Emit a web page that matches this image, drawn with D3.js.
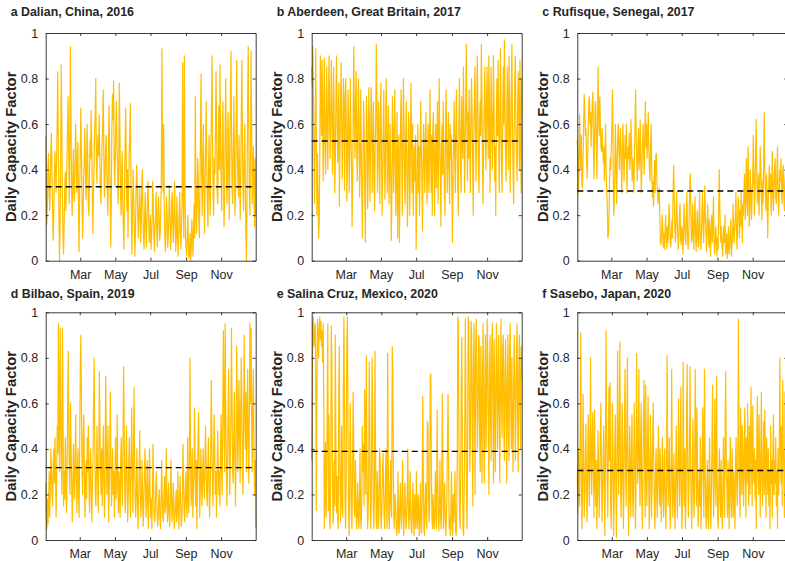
<!DOCTYPE html>
<html>
<head>
<meta charset="utf-8">
<script src="https://cdn.jsdelivr.net/npm/d3@7"></script>
<style>
  html, body { margin: 0; padding: 0; background: #fff; }
  #container { width: 785px; height: 561px; overflow: hidden; }
  text { font-family: "Liberation Sans", Arial, Helvetica, sans-serif; }
</style>
</head>
<body>
<div id="container"></div>
<script>
// panel headings, years and the mean (dashed) level
const panelTitles = [
  "a Dalian, China, 2016", "b Aberdeen, Great Britain, 2017", "c Rufisque, Senegal, 2017",
  "d Bilbao, Spain, 2019", "e Salina Cruz, Mexico, 2020", "f Sasebo, Japan, 2020"
];
const panelYears = [2016, 2017, 2017, 2019, 2020, 2020];
const panelMeans = [0.325, 0.526, 0.306, 0.318, 0.389, 0.305];
const yTicks = [0, 0.2, 0.4, 0.6, 0.8, 1];
const tickMonths = [2, 4, 6, 8, 10]; // Mar, May, Jul, Sep, Nov

// daily capacity factor, one row per month
const dalian = [
  .55,.3,.16,.25,.42,.47,.3,.22,.35,.49,.56,.38,.21,.09,.2,.35,.48,.4,.3,.45,.61,.83,.5,.2,.0,.15,.45,.86,.6,.3,.12,
  .03,.15,.3,.39,.22,.35,.46,.6,.72,.45,.25,.5,.94,.6,.3,.2,.35,.49,.3,.26,.44,.6,.47,.3,.38,.52,.2,.04,.3,
  .45,.67,.5,.3,.1,.2,.36,.45,.58,.4,.27,.38,.6,.47,.25,.2,.35,.53,.45,.66,.5,.31,.12,.3,.4,.58,.63,.8,.45,.34,.5,
  .55,.46,.64,.45,.3,.25,.41,.52,.6,.75,.48,.28,.35,.48,.55,.42,.3,.2,.45,.68,.52,.3,.06,.25,.58,.73,.62,.79,.45,.33,
  .45,.6,.7,.5,.38,.25,.44,.78,.56,.3,.2,.38,.48,.25,.15,.05,.3,.52,.67,.45,.22,.4,.1,.3,.45,.55,.69,.4,.18,.03,.25,
  .4,.28,.15,.02,.12,.3,.42,.35,.2,.1,.18,.33,.25,.08,.15,.35,.4,.22,.1,.05,.2,.3,.14,.06,.18,.28,.35,.2,.08,.12,
  .2,.05,.1,.17,.35,.25,.1,.04,.15,.2,.3,.13,.06,.18,.28,.2,.09,.12,.22,.35,.93,.5,.3,.6,.25,.1,.04,.14,.28,.2,.06,
  .1,.2,.33,.2,.05,.1,.26,.3,.15,.08,.18,.35,.2,.04,.1,.28,.15,.02,.1,.22,.3,.12,.05,.15,.25,.87,.3,.1,.9,.35,.1,
  .05,.02,.1,.2,.08,.01,.03,.12,.0,.05,.18,.1,.02,.15,.25,.1,.72,.3,.12,.2,.45,.38,.2,.1,.3,.55,.82,.4,.2,.45,
  .6,.3,.12,.35,.5,.7,.4,.25,.15,.4,.55,.3,.2,.48,.65,.9,.5,.28,.2,.45,.38,.55,.83,.6,.3,.25,.5,.68,.4,.86,.5,
  .35,.22,.55,.7,.4,.15,.3,.6,.8,.45,.25,.35,.65,.5,.18,.4,.7,.92,.55,.3,.25,.5,.72,.45,.2,.3,.6,.88,.5,.35,
  .28,.55,.4,.18,.35,.65,.88,.5,.3,.22,.45,.6,.35,.1,.0,.3,.72,.94,.55,.3,.2,.5,.92,.6,.25,.35,.5,.3,.15,.45,.2
];
const aberdeen = [
  .85,.77,.94,.7,.45,.25,.6,.93,.55,.2,.47,.3,.1,.16,.46,.9,.75,.55,.88,.6,.35,.7,.89,.5,.38,.62,.85,.55,.4,.72,.9,
  .65,.45,.6,.88,.72,.38,.5,.85,.6,.3,.45,.72,.9,.65,.43,.55,.78,.24,.5,.7,.87,.6,.36,.55,.8,.72,.31,.65,
  .8,.55,.26,.45,.75,.6,.3,.5,.8,.55,.42,.15,.35,.68,.94,.6,.45,.7,.83,.5,.35,.55,.8,.62,.28,.4,.75,.5,.26,.1,.45,
  .7,.55,.3,.08,.45,.72,.6,.23,.4,.76,.55,.26,.5,.76,.65,.3,.45,.7,.35,.22,.5,.62,.95,.7,.3,.55,.7,.4,.25,.65,
  .78,.45,.2,.35,.6,.75,.42,.27,.5,.8,.6,.3,.5,.68,.25,.4,.6,.35,.09,.3,.72,.55,.3,.55,.75,.4,.2,.45,.65,.1,.4,
  .55,.08,.3,.62,.75,.5,.2,.45,.8,.6,.33,.25,.55,.7,.4,.15,.35,.65,.5,.2,.48,.78,.55,.3,.6,.2,.4,.5,.35,.55,
  .05,.2,.45,.6,.3,.5,.2,.45,.7,.5,.35,.13,.4,.6,.45,.3,.52,.65,.4,.25,.5,.6,.3,.45,.75,.5,.3,.55,.2,.58,.65,
  .4,.2,.5,.6,.32,.5,.7,.25,.45,.8,.55,.35,.15,.5,.6,.38,.7,.45,.3,.2,.6,.75,.5,.3,.45,.65,.4,.25,.6,.45,.55,
  .3,.08,.4,.52,.7,.45,.3,.6,.75,.5,.35,.2,.55,.8,.6,.4,.3,.72,.55,.45,.85,.6,.3,.5,.7,.95,.6,.35,.65,.45,
  .75,.5,.3,.6,.8,.65,.4,.2,.55,.7,.85,.55,.35,.6,.9,.7,.4,.3,.6,.7,.55,.95,.7,.45,.25,.5,.65,.85,.6,.4,.7,
  .85,.6,.45,.9,.7,.3,.5,.85,.65,.4,.55,.9,.7,.35,.5,.2,.6,.8,.55,.88,.6,.3,.55,.93,.7,.4,.3,.6,.85,.6,
  .97,.7,.45,.35,.6,.85,.6,.4,.9,.7,.3,.5,.75,.95,.6,.4,.25,.55,.8,.9,.6,.45,.35,.7,.83,.6,.4,.88,.55,.3,.8
];
const rufisque = [
  .53,.45,.3,.4,.64,.5,.4,.55,.33,.32,.45,.6,.73,.65,.55,.58,.45,.36,.45,.6,.7,.72,.6,.65,.5,.62,.7,.74,.48,.36,.55,
  .7,.68,.5,.36,.6,.85,.65,.55,.72,.6,.5,.48,.58,.5,.43,.5,.35,.45,.6,.4,.3,.25,.1,.12,.2,.35,.45,.4,
  .5,.6,.75,.5,.2,.25,.38,.6,.45,.25,.4,.55,.6,.5,.4,.52,.58,.45,.3,.45,.6,.48,.35,.45,.55,.45,.6,.3,.4,.5,.45,
  .56,.4,.45,.62,.5,.35,.45,.38,.3,.45,.6,.75,.55,.45,.35,.5,.58,.4,.45,.62,.45,.3,.4,.52,.6,.48,.38,.55,.7,.5,
  .6,.45,.55,.65,.5,.4,.35,.5,.6,.42,.28,.35,.24,.32,.44,.3,.46,.47,.35,.3,.25,.3,.32,.2,.08,.07,.1,.2,.15,.06,.12,
  .05,.1,.2,.12,.05,.15,.08,.12,.25,.18,.1,.06,.12,.18,.1,.3,.42,.3,.15,.08,.15,.3,.2,.12,.05,.1,.2,.25,.1,.07,
  .15,.13,.03,.1,.25,.18,.1,.07,.2,.3,.12,.05,.1,.2,.36,.38,.2,.08,.1,.25,.12,.05,.18,.28,.12,.04,.15,.22,.1,.06,.18,
  .3,.12,.05,.1,.2,.3,.15,.08,.2,.33,.2,.12,.04,.15,.25,.12,.06,.18,.1,.02,.15,.2,.08,.15,.28,.1,.03,.1,.15,.08,.02,
  .1,.05,.2,.4,.25,.12,.08,.15,.05,.02,.1,.15,.08,.2,.03,.06,.12,.01,.08,.15,.03,.05,.12,.18,.02,.06,.1,.25,.12,.08,
  .15,.2,.3,.1,.05,.18,.28,.22,.1,.22,.15,.3,.2,.08,.25,.2,.32,.38,.18,.25,.45,.3,.2,.5,.35,.15,.22,.4,.28,.18,.3,
  .35,.55,.4,.2,.3,.45,.62,.4,.25,.3,.38,.2,.3,.5,.42,.3,.18,.35,.25,.45,.65,.4,.3,.22,.38,.28,.1,.25,.35,.42,
  .3,.38,.2,.28,.48,.35,.22,.3,.4,.45,.28,.25,.38,.5,.32,.2,.3,.4,.35,.45,.3,.25,.38,.42,.28,.22,.35,.4,.3,.22,.4
];
const bilbao = [
  .25,.1,.05,.18,.07,.15,.3,.1,.22,.4,.3,.2,.15,.33,.4,.25,.45,.3,.1,.28,.5,.38,.95,.5,.3,.93,.6,.35,.2,.93,.55,
  .15,.3,.18,.45,.3,.12,.25,.55,.83,.5,.3,.2,.6,.4,.25,.08,.2,.42,.3,.18,.35,.55,.3,.12,.28,.4,.2,.1,
  .45,.78,.9,.6,.3,.2,.45,.55,.3,.1,.25,.35,.18,.45,.3,.5,.25,.12,.3,.4,.2,.08,.25,.35,.6,.8,.45,.2,.15,.3,.5,
  .28,.12,.3,.74,.5,.3,.2,.4,.15,.35,.5,.25,.1,.3,.72,.45,.2,.35,.5,.08,.2,.35,.65,.4,.15,.25,.4,.2,.3,.1,
  .25,.45,.18,.3,.55,.25,.12,.3,.2,.1,.35,.45,.25,.15,.4,.76,.5,.2,.12,.3,.5,.3,.08,.18,.35,.45,.2,.1,.3,.58,.35,
  .12,.3,.67,.4,.18,.1,.2,.4,.2,.05,.15,.3,.48,.22,.1,.18,.35,.2,.06,.15,.28,.4,.25,.1,.2,.35,.15,.05,.25,.4,
  .2,.1,.18,.05,.2,.42,.25,.1,.08,.15,.25,.3,.12,.06,.1,.18,.22,.1,.05,.15,.35,.2,.1,.08,.2,.28,.12,.15,.4,.2,.08,
  .15,.25,.1,.06,.15,.35,.2,.08,.12,.25,.18,.05,.1,.15,.22,.08,.15,.3,.12,.05,.2,.28,.15,.06,.1,.2,.42,.25,.12,.08,.2,
  .3,.15,.1,.45,.2,.12,.35,.8,.4,.15,.25,.4,.1,.2,.3,.58,.3,.15,.35,.05,.25,.45,.56,.3,.1,.22,.4,.25,.15,.3,
  .4,.25,.18,.3,.5,.35,.2,.15,.3,.45,.25,.1,.2,.38,.7,.45,.25,.15,.35,.55,.4,.2,.3,.1,.25,.48,.35,.2,.3,.15,.4,
  .55,.3,.2,.6,.92,.55,.3,.95,.6,.35,.15,.3,.5,.75,.45,.2,.35,.55,.93,.6,.3,.25,.45,.65,.35,.15,.4,.85,.6,.3,
  .45,.7,.5,.25,.55,.8,.6,.3,.2,.5,.9,.6,.4,.65,.3,.5,.75,.45,.25,.55,.95,.6,.93,.5,.3,.6,.75,.4,.2,.35,.05
];
const salinaCruz = [
  .35,.7,.95,.98,.85,.9,.95,.78,.13,.6,.97,.9,.8,.93,.98,.88,.96,.85,.92,.78,.95,.6,.05,.2,.43,.1,.27,.6,.95,.13,.55,
  .1,.05,.25,.94,.8,.35,.07,.12,.35,.15,.9,.45,.12,.28,.1,.05,.6,.85,.3,.08,.2,.5,.15,.1,.7,.98,.6,.15,.05,
  .3,.85,.98,.6,.15,.02,.2,.6,.4,.1,.05,.3,.65,.45,.15,.1,.35,.18,.05,.1,.25,.12,.05,.18,.4,.1,.05,.2,.5,.3,.42,
  .15,.66,.52,.2,.81,.4,.05,.1,.25,.78,.5,.1,.05,.3,.8,.6,.15,.05,.2,.83,.4,.1,.05,.3,.2,.05,.15,.4,.35,.1,
  .05,.15,.3,.38,.2,.1,.05,.25,.4,.15,.05,.82,.4,.1,.05,.2,.35,.15,.1,.85,.75,.3,.05,.1,.2,.15,.05,.02,.1,.3,.05,
  .03,.15,.25,.1,.05,.2,.35,.12,.02,.1,.25,.15,.05,.08,.2,.4,.15,.05,.1,.3,.18,.05,.03,.15,.25,.08,.02,.2,.1,.05,
  .3,.1,.05,.2,.15,.02,.05,.25,.1,.03,.18,.63,.3,.05,.02,.15,.25,.1,.05,.52,.5,.2,.08,.15,.72,.73,.3,.1,.05,.2,.1,
  .05,.15,.3,.1,.05,.57,.3,.1,.04,.15,.35,.1,.05,.2,.64,.3,.05,.15,.25,.1,.02,.08,.2,.45,.64,.3,.05,.1,.02,.15,.3,
  .05,.02,.2,.08,.15,.3,.05,.02,.1,.35,.98,.95,.4,.1,.05,.3,.67,.89,.3,.05,.02,.2,.5,.97,.6,.2,.05,.4,.98,.95,
  .6,.3,.45,.96,.9,.5,.15,.75,.95,.6,.2,.85,.97,.7,.4,.55,.9,.88,.4,.3,.85,.6,.25,.75,.95,.5,.25,.7,.9,.4,.6,
  .97,.8,.45,.2,.75,.9,.5,.35,.85,.95,.6,.25,.88,.7,.3,.55,.95,.8,.4,.65,.9,.55,.25,.7,.97,.6,.45,.85,.9,.5,
  .35,.75,.88,.55,.25,.7,.9,.45,.35,.85,.95,.6,.4,.8,.5,.3,.65,.9,.7,.35,.55,.85,.95,.5,.3,.75,.9,.6,.4,.85,.7
];
const sasebo = [
  .3,.12,.4,.25,.15,.5,.91,.3,.05,.2,.64,.4,.1,.2,.35,.51,.2,.08,.3,.55,.3,.15,.4,.8,.35,.2,.45,.56,.3,.1,.57,
  .3,.15,.35,.05,.2,.48,.3,.1,.25,.45,.6,.3,.08,.2,.38,.5,.2,.02,.4,.92,.5,.25,.1,.45,.67,.35,.69,.15,.05,
  .3,.6,.4,.02,.15,.4,.55,.25,.01,.3,.83,.45,.2,.5,.87,.3,.1,.25,.6,.4,.05,.2,.55,.75,.3,.15,.45,.8,.35,.02,.2,
  .5,.25,.1,.4,.55,.2,.1,.3,.6,.35,.05,.2,.82,.5,.25,.4,.75,.3,.15,.45,.6,.2,.05,.25,.55,.7,.35,.1,.68,.3,
  .15,.4,.63,.3,.05,.2,.55,.4,.1,.25,.45,.6,.3,.15,.05,.3,.4,.2,.1,.35,.5,.25,.15,.4,.2,.08,.3,.45,.2,.1,.35,
  .4,.15,.05,.25,.81,.4,.15,.3,.45,.1,.05,.25,.75,.35,.1,.2,.38,.15,.05,.3,.5,.25,.1,.3,.62,.35,.15,.4,.67,.2,
  .05,.2,.78,.35,.15,.4,.05,.2,.55,.77,.3,.1,.25,.45,.76,.3,.15,.05,.35,.53,.2,.1,.3,.75,.4,.15,.58,.3,.06,.15,.3,
  .15,.45,.05,.2,.35,.58,.3,.1,.75,.4,.15,.05,.2,.35,.1,.05,.3,.45,.15,.05,.2,.4,.68,.3,.1,.25,.62,.35,.15,.72,.3,
  .1,.05,.25,.4,.2,.1,.35,.15,.05,.2,.45,.25,.1,.52,.74,.3,.23,.1,.35,.2,.05,.3,.45,.15,.1,.4,.25,.1,.3,.2,
  .05,.35,.45,.25,.15,.3,.97,.45,.2,.1,.58,.4,.2,.5,.38,.15,.3,.58,.35,.1,.45,.25,.6,.35,.15,.5,.2,.4,.67,.3,.15,
  .59,.35,.25,.4,.18,.35,.05,.45,.63,.3,.2,.55,.3,.1,.4,.65,.25,.15,.35,.52,.2,.57,.3,.1,.45,.36,.2,.4,.15,.3,
  .05,.5,.25,.35,.1,.4,.55,.2,.35,.25,.45,.15,.3,.05,.4,.2,.35,.8,.45,.25,.5,.15,.7,.4,.3,.1,.65,.35,.2,.5,.05
];
const panelSeries = [dalian, aberdeen, rufisque, bilbao, salinaCruz, sasebo];

const width = 785;
const height = 561;
const colLeft = [45.7, 311.7, 577.3];
const rowTop = [33, 312.3];
const pw = 210;
const ph = 227.7;
const axisColor = "#262626";
const lineColor = "#FFBF00";

const svg = d3.create("svg")
    .attr("width", width)
    .attr("height", height)
    .attr("viewBox", [0, 0, width, height]);

panelSeries.forEach((series, i) => {
    const year = panelYears[i];
    const left = colLeft[i % 3];
    const top = rowTop[Math.floor(i / 3)];
    const start = new Date(year, 0, 1);

    const x = d3.scaleTime()
        .domain([start, new Date(year, 11, 31)])
        .range([0, pw]);
    const y = d3.scaleLinear().domain([0, 1]).range([ph, 0]);

    const g = svg.append("g").attr("transform", `translate(${left},${top})`);

    // daily series
    const line = d3.line()
        .x((d, j) => x(d3.timeDay.offset(start, j)))
        .y(d => y(d));
    g.append("path")
        .datum(series)
        .attr("fill", "none")
        .attr("stroke", lineColor)
        .attr("stroke-width", 1.2)
        .attr("stroke-linejoin", "round")
        .attr("d", line);

    // mean level
    g.append("line")
        .attr("x1", x(start))
        .attr("x2", x(d3.timeDay.offset(start, series.length - 1)))
        .attr("y1", y(panelMeans[i]))
        .attr("y2", y(panelMeans[i]))
        .attr("stroke", "#000")
        .attr("stroke-width", 1.4)
        .attr("stroke-dasharray", "6,4");

    const monthDates = tickMonths.map(m => new Date(year, m, 1));

    g.append("g")
        .attr("transform", `translate(0,${ph})`)
        .call(d3.axisBottom(x).tickValues(monthDates).tickFormat(d3.timeFormat("%b"))
            .tickSize(-3).tickSizeOuter(0).tickPadding(9.5))
        .attr("font-size", 12.5);
    g.append("g")
        .call(d3.axisTop(x).tickValues(monthDates).tickFormat("").tickSize(-3).tickSizeOuter(0));
    g.append("g")
        .call(d3.axisLeft(y).tickValues(yTicks).tickFormat(d3.format("~g"))
            .tickSize(-3).tickSizeOuter(0).tickPadding(7.5))
        .attr("font-size", 12.5);
    g.append("g")
        .attr("transform", `translate(${pw},0)`)
        .call(d3.axisRight(y).tickValues(yTicks).tickFormat("").tickSize(-3).tickSizeOuter(0));

    g.selectAll(".domain, .tick line").attr("stroke", axisColor).attr("stroke-width", 0.9);
    g.selectAll(".tick text")
        .attr("fill", axisColor)
        .attr("font-family", "'Liberation Sans', Arial, Helvetica, sans-serif");

    // y label
    g.append("text")
        .attr("transform", `translate(-29.5,${ph / 2}) rotate(-90)`)
        .attr("text-anchor", "middle")
        .attr("font-size", 14.8)
        .attr("font-weight", "bold")
        .attr("fill", axisColor)
        .text("Daily Capacity Factor");

    // panel heading
    svg.append("text")
        .attr("x", left - 35)
        .attr("y", top - (i < 3 ? 17 : 14))
        .attr("font-size", 12.4)
        .attr("font-weight", "bold")
        .attr("fill", axisColor)
        .text(panelTitles[i]);
});

document.getElementById("container").append(svg.node());
</script>
</body>
</html>
